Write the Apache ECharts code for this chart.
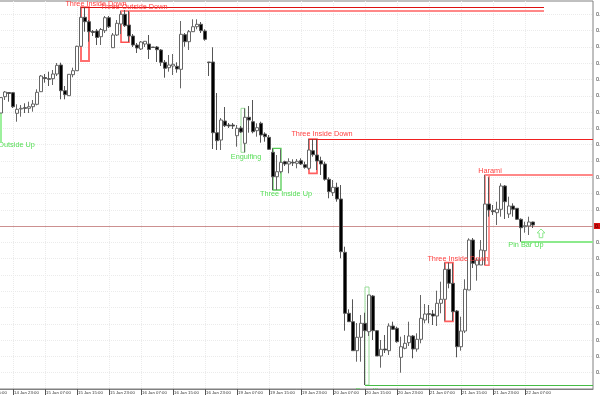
<!DOCTYPE html>
<html><head><meta charset="utf-8">
<style>html,body{margin:0;padding:0;background:#fff;overflow:hidden}#c{width:600px;height:400px}</style>
<script src="https://cdn.jsdelivr.net/npm/echarts@6/dist/echarts.min.js"></script>
</head><body><div id="c"></div><script>
// Prices are given in points above the bottom of the visible range.
const opens=[276,292.3,296.5,296.3,275.7,280,281.3,280.7,282.3,284.7,297.3,311.5,310.3,310.3,315,324,298.3,293.3,314.3,318.3,342.7,371.7,367.3,357.5,358,352.3,358.3,371.3,341.3,354,365,374.7,364,353,344,340,345,345,342,342,339,326.7,321.3,323,322.7,319.7,354.3,347.3,357.3,362.3,364.7,358,327,327,256.3,249,268,264,264,253.3,261,245.7,271.7,267.3,258.3,265.7,255,251.7,236.7,212.3,217.3,227.3,225,226.7,225.7,228.3,224.3,220.7,238.3,234,228.3,225,209.7,196.3,201.7,190,136.7,75.7,67.3,38.3,51.7,65.7,57.3,93,58.3,33,40,38.3,63,60.7,31.7,40.7,46.3,53,40,49.7,69,75.3,75,73,85.7,89.7,119.7,105.7,78,42.3,58,99,149,124,124,138.3,185,178.3,176.3,179.7,203,175,183,180.7,169.7,162.3,163,167];
const closes=[291.4,297,295.5,282.3,279.7,280.7,280.7,282.3,285,296.7,313,310.5,309.7,315,323.7,298.3,294.3,314.7,318.3,342.7,371.7,367.3,357.3,356.5,351.5,359.5,371.3,362.3,354,365.7,374.7,363.3,353,344,341,347,347.7,339.5,341.5,339.3,326.7,320.7,324,324.7,320,354.7,347.3,357.3,362.3,364.7,358.3,349.7,326.5,256.3,248.3,269,263.3,263,263,260.7,257,271.7,269,257.3,261.3,254,252.3,239.7,212.3,217.3,226.7,225,227.3,226,227.7,225,221.7,239,234.3,228,225,209.7,197.3,201.7,190,137.3,75.7,67.3,38.3,51.7,65.7,58.3,94,58.3,33,39.7,39,63,59.7,47.3,42.3,45.7,53,40,49.7,70.7,75,74.7,73,85.7,89.7,119.7,105.7,77.3,42.3,58,99.7,149,125.7,129,139,185,179,177.3,179.7,203,187.3,183,179.7,169.7,161.3,163.3,167,164];
const lows=[276,289,287.3,281,267.3,272.3,276,276,277.3,283.7,297,306.3,303,304,313,289.7,289.7,293,311.7,318,342,357.3,347.3,353,344,344,356,361,341,353,355,362,347,342,336,339,342,330,341,327,323,311.3,317.3,314,316.3,300.7,342.3,339,357,359.7,356,348.3,313,240,239,239,262,261,260,242.3,256,236.7,256.3,255.7,252.3,246.3,247.3,239,199,199,215.7,223,215.7,223,220.7,224,220.3,219,232.3,219,214,208.3,190.7,193,187.3,130.7,58.3,67,38,27.3,27.3,4,53,49,33,21.3,36,34,59,46.3,16.3,39.7,43,30.7,37.3,45.7,65.7,65.7,64,63,75.7,68.3,100.7,68,31.7,38.3,56,99,121,108.3,124,124,172.3,174,164,172.3,170,171,172.3,169,147.3,156.3,154,161];
const highs=[292,298,297,297,284.7,284,285.7,287.3,289,299.7,314,315,317.3,319,326,326.3,303,315,321.3,343.3,381.7,381.7,369,359,360,361,373,373,356,369,378,379,378,355,346,348,348,354,342,343,340,329,334,335,326.7,368,356,359,369.7,369.7,367,359.7,327,341.7,296,271,282,266,266,264,263,280.7,283,289,265.7,267.3,256.7,254,240.7,234,239.7,228.3,230.7,229.7,230,230.7,227.3,250,250,250,232.3,227.3,211.7,209,206.3,204,142.3,79.7,89.7,66,74,76.3,94,94,59,49,54,65.7,67.3,62.3,52.3,54,67.3,54,55.7,94,85,84,79,98.3,107.3,126.3,126.3,125.7,79,72.3,109.7,150.7,151,131,149,214,211.7,184,187.3,205.7,204,192.3,185.7,181,170.7,167.3,172.3,167.3];
const firstCandlePosition=5;
const timeLabels=["14 Jan 15:00","14 Jan 23:00","15 Jan 07:00","15 Jan 15:00","15 Jan 23:00","16 Jan 07:00","16 Jan 15:00","16 Jan 23:00","19 Jan 07:00","19 Jan 15:00","19 Jan 23:00","20 Jan 07:00","20 Jan 15:00","20 Jan 23:00","21 Jan 07:00","21 Jan 15:00","21 Jan 23:00","22 Jan 07:00"];
const priceLabels=["0.8980","0.9000","0.9020","0.9040","0.9060","0.9080","0.9100","0.9120","0.9140","0.9160","0.9180","0.9200","0.9220","0.9240","0.9260","0.9280","0.9300","0.9320","0.9340","0.9360","0.9380","0.9400","0.9420","0.9440"];
// pattern boxes: first candle, last candle, upper price, lower price
const boxCandlesFrom=[20,30,-1,60,68,77,91,111,121];
const boxCandlesTo=[22,32,0,61,70,79,92,113,122];
const boxUpper=[381.7,378,276,280.7,240.7,250,102,126.3,214];
const boxLower=[328,346.7,248,236.7,199,215.7,4,67.7,123.7];
// level lines: first candle, last candle, price
const levelFrom=[20,30,77,91,121,130,-6];
const levelTo=[135.75,135.75,148,148,148,148,148];
const levelPrice=[381.7,378,250,4,214,147.3,163];
// pattern names: anchor candle, price, text
const noteText=["Three Inside Down","Three Outside Down","Outside Up","Engulfing","Three Inside Up","Three Inside Down","Engulfing","Three Inside Down","Harami","Pin Bar Up"];
const noteCandle=[23.75,33.25,3.9,61.25,71.25,80.25,92.5,114.25,122.25,131.25];
const notePrice=[385.5,382,244.5,232.5,195,255,-1.5,130,218,144];
const arrowCandle=135, arrowTop=160, arrowBottom=151.3;
const lastPrice=163;

const RED='#ff4040', GREEN='#55dd55';
const boxStyles=[['#ff6f6f',2],['#ff5050',1.5],['#9df09d',2],['#99dd99',1],['#55cc55',1.3],['#ff6060',1.7],['#99dd99',1],['#ff6060',1.7],['#ff7070',1.5]];
const levelStyles=[['#dd1111',1],['#ff8888',2],['#f02020',1],['#44bb44',1],['#ff8888',2],['#8cea8c',2],['#cc9090',1]];
const noteColors=[RED,RED,GREEN,GREEN,GREEN,RED,GREEN,RED,RED,GREEN];
const GRID={left:-19,top:1,width:612,height:388};
const pos=c=>c+firstCandlePosition;
const candles=opens.map((o,i)=>[pos(i),o,closes[i],lows[i],highs[i]]);
const P=16.29;
const yTicks=priceLabels.map((_,k)=>k*P).slice(1);
const xTicks=timeLabels.map((_,k)=>k*8);
const dotted={show:true,lineStyle:{color:'#ebebeb',type:'dotted',width:1}};

const option={
  animation:false,backgroundColor:'#fff',
  grid:{...GRID,outerBoundsMode:'none',containLabel:false,show:true,borderColor:'#808080',borderWidth:1,backgroundColor:'transparent'},
  xAxis:{type:'value',min:0,max:153,interval:4,splitLine:dotted,
    axisLine:{show:true,lineStyle:{color:'#808080',width:1}},
    axisTick:{show:true,length:6,inside:false,customValues:xTicks,lineStyle:{color:'#555'}},
    axisLabel:{show:true,customValues:xTicks,margin:0,align:'left',verticalAlign:'top',padding:[2,0,0,1],
      color:'#333',fontFamily:'Liberation Sans',fontSize:4.3,hideOverlap:false,
      formatter:v=>timeLabels[Math.round(v/8)]||''}},
  yAxis:{type:'value',position:'right',min:0,max:388,interval:P,splitLine:dotted,
    axisLine:{show:true,lineStyle:{color:'#808080',width:1}},
    axisTick:{show:true,length:3,customValues:yTicks,lineStyle:{color:'#555'}},
    axisLabel:{show:true,customValues:yTicks,margin:3,color:'#333',fontFamily:'Liberation Sans',fontSize:5.5,
      formatter:v=>priceLabels[Math.round(v/P)]||''}},
  series:[
    {type:'custom',coordinateSystem:'cartesian2d',clip:false,z:5,data:levelPrice.map((p,i)=>[i,pos(levelFrom[i]),pos(levelTo[i]),p]),
     renderItem:(par,api)=>{const i=api.value(0),a=api.coord([api.value(1),api.value(3)]),b=api.coord([api.value(2),api.value(3)]);
       const [c,w]=levelStyles[i];const y=Math.round(a[1])+(w%2?.5:0);
       return {type:'line',shape:{x1:a[0],y1:y,x2:b[0],y2:y},style:{stroke:c,lineWidth:w}};}},
    {type:'custom',coordinateSystem:'cartesian2d',clip:false,z:4,data:boxUpper.map((u,i)=>[i,pos(boxCandlesFrom[i]),pos(boxCandlesTo[i]),u,boxLower[i]]),
     renderItem:(par,api)=>{const i=api.value(0),a=api.coord([api.value(1),api.value(3)]),b=api.coord([api.value(2),api.value(4)]);
       const [c,w]=boxStyles[i];
       return {type:'rect',shape:{x:a[0],y:a[1],width:b[0]-a[0],height:b[1]-a[1]},
         style:{fill:i===2?'#9df09d':'none',stroke:c,lineWidth:w}};}},
    {type:'candlestick',barWidth:3,data:candles,encode:{x:0,y:[1,2,3,4]},clip:false,z:6,
     itemStyle:{color:'#fff',color0:'#000',borderColor:'#666',borderColor0:'#555',borderWidth:1}},
    {type:'custom',coordinateSystem:'cartesian2d',clip:false,z:8,data:[[pos(arrowCandle),arrowTop,arrowBottom]],
     renderItem:(par,api)=>{const t=api.coord([api.value(0),api.value(1)]),b=api.coord([api.value(0),api.value(2)]);
       const cx=t[0],h=b[1]-t[1],s=h*.45;
       return {type:'polygon',shape:{points:[[cx,t[1]],[cx+4,t[1]+s],[cx+1.8,t[1]+s],[cx+1.8,b[1]],[cx-1.8,b[1]],[cx-1.8,t[1]+s],[cx-4,t[1]+s]]},
         style:{fill:'#fff',stroke:'#8fe88f',lineWidth:1}};}},
    {type:'custom',coordinateSystem:'cartesian2d',clip:false,z:9,data:noteText.map((t,i)=>[i,pos(noteCandle[i]),notePrice[i]]),
     renderItem:(par,api)=>{const i=api.value(0),p=api.coord([api.value(1),api.value(2)]);
       const el={type:'text',x:p[0],y:p[1],style:{text:noteText[i],fill:noteColors[i],font:'7.3px "Liberation Sans"',textAlign:'center',textVerticalAlign:'middle'}};
       return {type:'group',children:[el],clipPath:{type:'rect',shape:{x:-20,y:-5,width:640,height:394}}};}},
    {type:'custom',coordinateSystem:'cartesian2d',clip:false,z:10,data:[[153,lastPrice]],
     renderItem:(par,api)=>{const p=api.coord([api.value(0),api.value(1)]);
       return {type:'group',children:[
         {type:'rect',shape:{x:p[0]+1,y:p[1]-3,width:7,height:6},style:{fill:'#dd1111'}},
         {type:'text',x:p[0]+2,y:p[1],style:{text:'0.9200',fill:'#300',font:'5.5px "Liberation Sans"',textAlign:'left',textVerticalAlign:'middle'}}]};}}
  ]
};
echarts.init(document.getElementById('c'),null,{renderer:'canvas',width:600,height:400}).setOption(option);
</script></body></html>
